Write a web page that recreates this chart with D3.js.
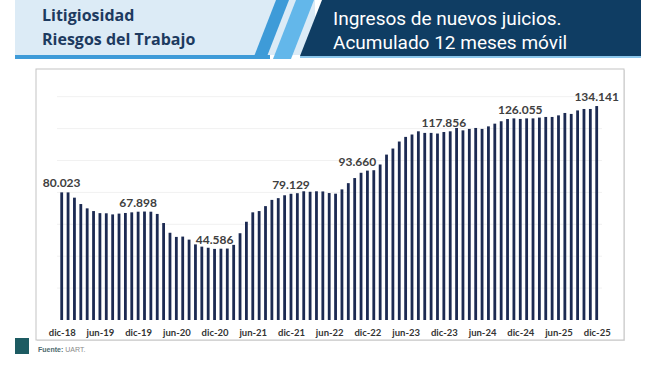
<!DOCTYPE html>
<html>
<head>
<meta charset="utf-8">
<script src="https://cdn.jsdelivr.net/npm/d3@7"></script>
<style>
  body { margin: 0; background: #fff; }
  svg { display: block; }
</style>
</head>
<body>
<svg id="chart" width="661" height="365"></svg>
<script>
// monthly values, dic-18 .. dic-25 (12-month rolling sum)
const values = [
	80023, 80000, 76700, 72700, 70000, 68300, 67000, 66900, 66200, 66700, 67100, 67500,
	67898, 68000, 67900, 66500, 60800, 54700, 52100, 52300, 50400, 47400, 46000, 45300,
	44586, 44700, 44800, 47100, 54400, 61600, 67500, 68300, 71400, 75300, 76400, 78200,
	79129, 79500, 80700, 80400, 80700, 80600, 79600, 79200, 81900, 85800, 89000, 92300,
	93660, 93900, 97500, 103700, 107500, 111900, 114800, 116300, 118300, 117300, 117300, 116900,
	117856, 118300, 120400, 118900, 119800, 120400, 119800, 121400, 123100, 124600, 126000, 126400,
	126055, 126400, 126400, 126900, 127300, 127300, 128300, 129800, 129200, 131400, 132300, 132300,
	134141
];
const monthNames = ['ene','feb','mar','abr','may','jun','jul','ago','sep','oct','nov','dic'];
const startMonth = new Date(2018, 11, 1);
const tickLabels = ['dic-18','jun-19','dic-19','jun-20','dic-20','jun-21','dic-21','jun-22',
	'dic-22','jun-23','dic-23','jun-24','dic-24','jun-25','dic-25'];
const labelled = ['dic-18','dic-19','dic-20','dic-21','dic-22','dic-23','dic-24','dic-25'];
const gridValues = [20000, 40000, 60000, 80000, 100000, 120000, 140000];

const months = values.map((v, i) => {
	var d = d3.timeMonth.offset(startMonth, i);
	return monthNames[d.getMonth()] + '-' + String(d.getFullYear()).slice(2);
});
const data = months.map((m, i) => ({month: m, value: values[i]}));

const es = d3.formatLocale({decimal: ',', thousands: '.', grouping: [3], currency: ['$', '']});
const fmt = es.format(',d');

var svg = d3.select('#chart');

// ---- header band ----
var head = svg.append('g');
head.append('rect').attr('x', 15).attr('y', 0).attr('width', 300).attr('height', 55).attr('fill', '#dcebf6');
head.append('rect').attr('x', 15).attr('y', 55).attr('width', 255).attr('height', 4).attr('fill', '#3e9bd8');
head.append('polygon').attr('points', '276,0 289,0 266,59 253,59').attr('fill', '#3e9bd8');
head.append('polygon').attr('points', '296,0 314,0 291,59 273,59').attr('fill', '#63b7ea');
head.append('polygon').attr('points', '322,0 641,0 641,56 300,56').attr('fill', '#0f3d63');
head.append('rect').attr('x', 300).attr('y', 56).attr('width', 341).attr('height', 2).attr('fill', '#8cc7ec');

head.append('text').attr('x', 42).attr('y', 21).text('Litigiosidad')
	.attr('font-family', 'Open Sans').attr('font-weight', 700).attr('font-size', 16).attr('fill', '#1d3a60');
head.append('text').attr('x', 42).attr('y', 45).text('Riesgos del Trabajo')
	.attr('font-family', 'Open Sans').attr('font-weight', 700).attr('font-size', 16).attr('fill', '#1d3a60');
head.append('text').attr('x', 333).attr('y', 25).text('Ingresos de nuevos juicios.')
	.attr('font-family', 'Roboto').attr('font-weight', 400).attr('font-size', 19).attr('fill', '#fff');
head.append('text').attr('x', 333).attr('y', 49).text('Acumulado 12 meses móvil')
	.attr('font-family', 'Roboto').attr('font-weight', 400).attr('font-size', 19).attr('fill', '#fff');

// ---- chart box ----
svg.append('rect').attr('x', 37).attr('y', 70).attr('width', 588).attr('height', 271)
	.attr('fill', '#999').attr('opacity', 0.25);
svg.append('rect').attr('x', 36).attr('y', 69).attr('width', 588).attr('height', 271)
	.attr('fill', '#fff').attr('stroke', '#c4c4c4').attr('stroke-width', 1);

var x = d3.scalePoint().domain(months).range([61.7, 596.7]);
var y = d3.scaleLinear().domain([0, 140000]).range([320, 96.7]);

svg.append('g').selectAll('line').data(gridValues).enter().append('line')
	.attr('x1', 57).attr('x2', 602)
	.attr('y1', d => y(d)).attr('y2', d => y(d))
	.attr('stroke', '#f1f1f1').attr('stroke-width', 1);

svg.append('g').selectAll('rect').data(data).enter().append('rect')
	.attr('x', d => x(d.month) - 1.4).attr('width', 2.8)
	.attr('y', d => y(d.value)).attr('height', d => y(0) - y(d.value))
	.attr('fill', '#1c2a52');

// value labels
svg.append('g').selectAll('text').data(data.filter(d => labelled.includes(d.month))).enter().append('text')
	.attr('x', d => x(d.month) + (d.month === 'dic-22' ? -10 : 0))
	.attr('y', d => y(d.value) - 5)
	.attr('text-anchor', 'middle')
	.attr('font-family', 'Lato').attr('font-weight', 700).attr('font-size', 12).attr('fill', '#404040')
	.text(d => fmt(d.value));

// x axis
var xAxis = d3.axisBottom(x).tickValues(tickLabels).tickSize(0).tickPadding(9);
var gx = svg.append('g').attr('transform', 'translate(0,' + y(0) + ')').call(xAxis);
gx.select('.domain').remove();
gx.selectAll('text').attr('font-family', 'Lato').attr('font-weight', 700).attr('font-size', 9.5).attr('fill', '#333');

// ---- footer ----
svg.append('rect').attr('x', 15).attr('y', 338).attr('width', 14).attr('height', 16).attr('fill', '#1d5b62');
var src = svg.append('text').attr('x', 38).attr('y', 352)
	.attr('font-family', 'Liberation Sans').attr('font-size', 7).attr('fill', '#8a8a8a');
src.append('tspan').attr('font-weight', 700).attr('fill', '#4d6a6e').text('Fuente: ');
src.append('tspan').text('UART.');
</script>
</body>
</html>
